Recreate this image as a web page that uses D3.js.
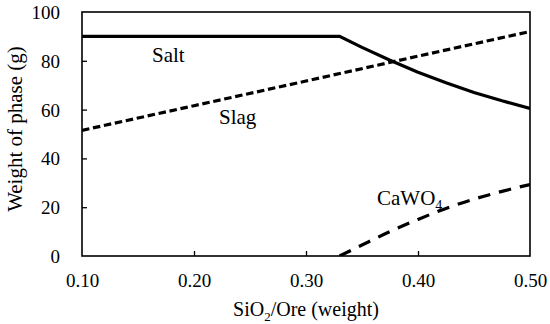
<!DOCTYPE html>
<html>
<head>
<meta charset="utf-8">
<script src="https://cdn.jsdelivr.net/npm/d3@7/dist/d3.min.js"></script>
<style>
  html, body { margin: 0; padding: 0; background: #fff; }
  svg { display: block; }
  svg text { font-family: "Liberation Serif", "Times New Roman", serif; fill: #000; }
</style>
</head>
<body>
<svg id="chart" width="550" height="324"></svg>
<script>
// ---- data ----
const xTicks = [0.10, 0.20, 0.30, 0.40, 0.50];
const yTicks = [0, 20, 40, 60, 80, 100];

const saltX = [0.10, 0.33, 0.35, 0.375, 0.40, 0.425, 0.45, 0.475, 0.50];
const saltY = [90, 90, 85.5, 80.2, 75.3, 71, 67, 63.6, 60.5];

const slagX = [0.10, 0.20, 0.30, 0.40, 0.50];
const slagY = [51.5, 61.6, 71.7, 81.9, 92];

const cawo4X = [0.33, 0.35, 0.375, 0.40, 0.425, 0.45, 0.475, 0.50];
const cawo4Y = [0, 4.5, 10, 15, 19.5, 23.3, 26.5, 29.3];

// ---- layout ----
const FONT = "'Liberation Serif', 'Times New Roman', serif";
const svg = d3.select("#chart");
const L = 82, R = 530, T = 12, B = 256;
const x = d3.scaleLinear().domain([0.10, 0.50]).range([L, R]);
const y = d3.scaleLinear().domain([0, 100]).range([B, T]);

// axes with inward ticks
const xAxis = d3.axisBottom(x).tickValues(xTicks).tickFormat(d3.format(".2f"))
  .tickSizeInner(-5).tickSizeOuter(0).tickPadding(16);
const yAxis = d3.axisLeft(y).tickValues(yTicks).tickFormat(d3.format("d"))
  .tickSizeInner(-5).tickSizeOuter(0).tickPadding(22);

const gx = svg.append("g").attr("transform", `translate(0,${B})`).call(xAxis);
const gy = svg.append("g").attr("transform", `translate(${L},0)`).call(yAxis);
[gx, gy].forEach(g => {
  g.attr("font-family", FONT).attr("font-size", 19);
  g.select(".domain").remove();
  g.selectAll(".tick line").attr("stroke", "#000").attr("stroke-width", 1.3);
  g.selectAll(".tick text").attr("fill", "#000")
    .attr("font-family", FONT).attr("font-size", 19)
    .style("font-family", FONT).style("font-size", "19px");
});
gx.selectAll(".tick line").filter(d => d === 0.10 || d === 0.50).remove();
gy.selectAll(".tick line").filter(d => d === 0 || d === 100).remove();
gx.selectAll(".tick text").attr("dy", null).attr("y", 31);
gy.selectAll(".tick text").attr("text-anchor", "end").attr("x", -22)
  .attr("dy", null).attr("y", 6.5);

// frame
svg.append("rect").attr("x", L).attr("y", T).attr("width", R - L).attr("height", B - T)
  .attr("fill", "none").attr("stroke", "#000").attr("stroke-width", 1.6);

// clip
svg.append("clipPath").attr("id", "clip").append("rect")
  .attr("x", L).attr("y", T).attr("width", R - L).attr("height", B - T);

const line = d3.line().x(d => x(d[0])).y(d => y(d[1]));
const plot = svg.append("g").attr("clip-path", "url(#clip)");

plot.append("path").datum(d3.zip(saltX, saltY)).attr("d", line)
  .attr("fill", "none").attr("stroke", "#000").attr("stroke-width", 3.2);
plot.append("path").datum(d3.zip(slagX, slagY)).attr("d", line)
  .attr("fill", "none").attr("stroke", "#000").attr("stroke-width", 3.2)
  .attr("stroke-dasharray", "7.5,3.7");
plot.append("path").datum(d3.zip(cawo4X, cawo4Y)).attr("d", line.curve(d3.curveMonotoneX))
  .attr("fill", "none").attr("stroke", "#000").attr("stroke-width", 3.2)
  .attr("stroke-dasharray", "12.5,9");

// series labels
const lab = (tx, ty) => svg.append("text").attr("x", tx).attr("y", ty)
  .attr("font-family", FONT).style("font-size", "21px");
lab(152, 62).text("Salt");
lab(219, 124).text("Slag");
const ca = lab(377, 205);
ca.append("tspan").text("CaWO");
ca.append("tspan").attr("dy", 5).style("font-size", "14px").text("4");

// axis titles
const xt = svg.append("text").attr("x", (L + R) / 2).attr("y", 316)
  .attr("text-anchor", "middle").attr("font-family", FONT).style("font-size", "20px");
xt.append("tspan").text("SiO");
xt.append("tspan").attr("dy", 5).style("font-size", "13px").text("2");
xt.append("tspan").attr("dy", -5).text("/Ore (weight)");

svg.append("text").attr("transform", `translate(22,${129}) rotate(-90)`)
  .attr("text-anchor", "middle").attr("font-family", FONT).style("font-size", "21px")
  .text("Weight of phase (g)");
</script>
</body>
</html>
